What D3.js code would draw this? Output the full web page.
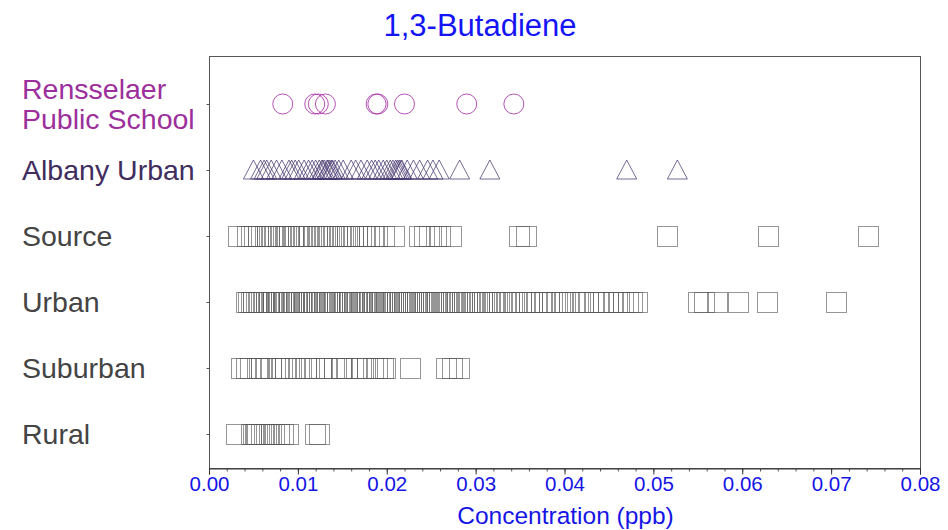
<!DOCTYPE html>
<html>
<head>
<meta charset="utf-8">
<script src="https://cdn.jsdelivr.net/npm/d3@7"></script>
<style>
  body { margin: 0; background: #fff; }
  svg { display: block; font-family: "Liberation Sans", Arial, sans-serif; }
</style>
</head>
<body>
<svg id="chart" width="948" height="530"></svg>
<script>
const width = 948;
const height = 530;
const svg = d3.select("#chart");

// row categories, top to bottom
const rows = ["Rensselaer Public School", "Albany Urban", "Source", "Urban", "Suburban", "Rural"];
const rowColors = ["#9c2f9c", "#3f2d5e", "#444", "#444", "#444", "#444"];

// concentrations (ppb)
const rensselaerValues = [0.0083, 0.0119, 0.0123, 0.0131, 0.0188, 0.0190, 0.0220, 0.0290, 0.0343];

const albanyValues = [0.0050, 0.0058, 0.0062, 0.0065, 0.0070, 0.0076, 0.0082, 0.0090, 0.0093, 0.0097,
  0.0101, 0.0107, 0.0112, 0.0116, 0.0120, 0.0124, 0.0127, 0.0128, 0.0130, 0.0133, 0.0134, 0.0136,
  0.0138, 0.0139, 0.0142, 0.0146, 0.0151, 0.0160, 0.0165, 0.0171, 0.0178, 0.0183, 0.0187, 0.0191,
  0.0196, 0.0200, 0.0204, 0.0207, 0.0210, 0.0212, 0.0214, 0.0216, 0.0217, 0.0223, 0.0230, 0.0237,
  0.0246, 0.0252, 0.0259, 0.0282, 0.0316, 0.0470, 0.0527];

const sourceValues = [0.0033, 0.0043, 0.0047, 0.0051, 0.0055, 0.0059, 0.0063, 0.0065, 0.0068, 0.0071,
  0.0074, 0.0078, 0.0080, 0.0083, 0.0087, 0.0090, 0.0094, 0.0096, 0.0100, 0.0104, 0.0107, 0.0111,
  0.0113, 0.0117, 0.0121, 0.0124, 0.0127, 0.0131, 0.0133, 0.0137, 0.0141, 0.0144, 0.0147, 0.0151,
  0.0155, 0.0158, 0.0162, 0.0167, 0.0171, 0.0176, 0.0180, 0.0185, 0.0189, 0.0197, 0.0208, 0.0236,
  0.0242, 0.0248, 0.0255, 0.0260, 0.0272, 0.0349, 0.0357, 0.0515, 0.0629, 0.0741];

const urbanValues = [0.0042, 0.0044, 0.0047, 0.0049, 0.0050, 0.0053, 0.0055, 0.0056, 0.0059, 0.0061,
  0.0062, 0.0064, 0.0067, 0.0068, 0.0071, 0.0072, 0.0075, 0.0077, 0.0078, 0.0081, 0.0083, 0.0084,
  0.0086, 0.0089, 0.0090, 0.0092, 0.0095, 0.0096, 0.0098, 0.0101, 0.0103, 0.0104, 0.0107, 0.0109,
  0.0110, 0.0112, 0.0115, 0.0117, 0.0118, 0.0121, 0.0122, 0.0124, 0.0127, 0.0129, 0.0130, 0.0133,
  0.0135, 0.0136, 0.0138, 0.0141, 0.0142, 0.0144, 0.0147, 0.0149, 0.0151, 0.0152, 0.0155, 0.0157,
  0.0158, 0.0161, 0.0163, 0.0165, 0.0166, 0.0169, 0.0171, 0.0172, 0.0175, 0.0177, 0.0178, 0.0181,
  0.0183, 0.0185, 0.0186, 0.0189, 0.0191, 0.0192, 0.0195, 0.0197, 0.0199, 0.0201, 0.0203, 0.0205,
  0.0207, 0.0209, 0.0211, 0.0212, 0.0215, 0.0217, 0.0219, 0.0221, 0.0223, 0.0225, 0.0227, 0.0229,
  0.0232, 0.0234, 0.0236, 0.0238, 0.0241, 0.0243, 0.0245, 0.0248, 0.0250, 0.0252, 0.0255, 0.0257,
  0.0259, 0.0262, 0.0264, 0.0267, 0.0269, 0.0272, 0.0274, 0.0277, 0.0279, 0.0282, 0.0285, 0.0287,
  0.0290, 0.0293, 0.0296, 0.0298, 0.0301, 0.0304, 0.0307, 0.0309, 0.0313, 0.0316, 0.0319, 0.0322,
  0.0326, 0.0330, 0.0334, 0.0338, 0.0343, 0.0346, 0.0351, 0.0355, 0.0360, 0.0363, 0.0368, 0.0373,
  0.0377, 0.0382, 0.0386, 0.0391, 0.0397, 0.0401, 0.0405, 0.0412, 0.0417, 0.0421, 0.0427, 0.0433,
  0.0438, 0.0443, 0.0449, 0.0455, 0.0461, 0.0466, 0.0471, 0.0476, 0.0482,
  0.0550, 0.0557, 0.0572, 0.0595, 0.0628, 0.0705];

const suburbanValues = [0.0036, 0.0042, 0.0046, 0.0054, 0.0056, 0.0059, 0.0063, 0.0070, 0.0078, 0.0082,
  0.0086, 0.0092, 0.0097, 0.0101, 0.0109, 0.0113, 0.0118, 0.0126, 0.0132, 0.0141, 0.0148, 0.0150,
  0.0155, 0.0165, 0.0171, 0.0178, 0.0185, 0.0189, 0.0196, 0.0198, 0.0226, 0.0267, 0.0273, 0.0281];

const ruralValues = [0.0030, 0.0047, 0.0050, 0.0052, 0.0054, 0.0059, 0.0062, 0.0064, 0.0068, 0.0070,
  0.0073, 0.0079, 0.0083, 0.0089, 0.0119, 0.0124];

const xTicks = [0, 0.01, 0.02, 0.03, 0.04, 0.05, 0.06, 0.07, 0.08];

const plot = { left: 209, right: 920, top: 56, bottom: 468 };

const x = d3.scaleLinear().domain([0, 0.08]).range([plot.left, plot.right]);
const y = d3.scalePoint().domain(rows).range([104, 434]);

// title
svg.append("text")
  .attr("x", 480).attr("y", 25).attr("dy", "0.35em")
  .attr("text-anchor", "middle")
  .style("font-size", "31px")
  .attr("fill", "#1414f5")
  .text("1,3-Butadiene");

// frame
svg.append("rect")
  .attr("x", plot.left + 0.5).attr("y", plot.top + 0.5)
  .attr("width", plot.right - plot.left).attr("height", plot.bottom - plot.top)
  .attr("fill", "none").attr("stroke", "#555").attr("stroke-width", 1);

// row labels
const labels = svg.append("g");
rows.forEach((r, i) => {
  const t = labels.append("text")
    .attr("x", 22)
    .style("font-size", "28.5px")
    .attr("fill", rowColors[i]);
  if (i === 0) {
    t.append("tspan").attr("x", 22).attr("y", y(r) - 15).attr("dy", "0.35em").text("Rensselaer");
    t.append("tspan").attr("x", 22).attr("y", y(r) + 15).attr("dy", "0.35em").text("Public School");
  } else {
    t.attr("y", y(r)).attr("dy", "0.35em").text(r);
  }
});

// small y ticks on the left edge
svg.append("g")
  .attr("transform", `translate(${plot.left + 0.5},0)`)
  .call(d3.axisLeft(y).tickSize(3).tickFormat(""))
  .call(g => g.select(".domain").remove())
  .selectAll("line").attr("stroke", "#555");

// x axis: minor ticks
svg.append("g")
  .attr("transform", `translate(0,${plot.bottom + 0.5})`)
  .call(d3.axisBottom(x).tickValues(d3.range(0, 0.0801, 0.002)).tickSize(3).tickFormat(""))
  .call(g => g.select(".domain").remove())
  .selectAll("line").attr("stroke", "#555");

// x axis: major ticks + labels
const xAxis = svg.append("g")
  .attr("transform", `translate(0,${plot.bottom + 0.5})`)
  .call(d3.axisBottom(x).tickValues(xTicks).tickSize(6).tickPadding(2).tickFormat(d3.format(".2f")));
xAxis.select(".domain").attr("stroke", "#333");
xAxis.selectAll("line").attr("stroke", "#333");
xAxis.selectAll("text")
  .style("font-size", "20.5px")
  .style("font-family", "'Liberation Sans', Arial, sans-serif")
  .attr("fill", "#1515e6");

svg.append("text")
  .attr("x", (plot.left + plot.right) / 2 + 1).attr("y", 515).attr("dy", "0.35em")
  .attr("text-anchor", "middle")
  .style("font-size", "24.5px")
  .attr("fill", "#1515e6")
  .text("Concentration (ppb)");

// markers
const marks = svg.append("g").attr("fill", "none");

// circles
const cy0 = y(rows[0]);
marks.append("g").selectAll("circle")
  .data(rensselaerValues).join("circle")
  .attr("cx", d => x(d)).attr("cy", cy0).attr("r", 10)
  .attr("stroke", "#a834a8").attr("stroke-opacity", 0.85).attr("stroke-width", 1);

// triangles
const cy1 = y(rows[1]);
marks.append("g").selectAll("path")
  .data(albanyValues).join("path")
  .attr("d", d => `M${x(d)},${cy1 - 10}L${x(d) + 10},${cy1 + 9}L${x(d) - 10},${cy1 + 9}Z`)
  .attr("stroke", "#4a3a70").attr("stroke-opacity", 0.75).attr("stroke-width", 1);

// squares
const squareRows = [[rows[2], sourceValues], [rows[3], urbanValues], [rows[4], suburbanValues], [rows[5], ruralValues]];
squareRows.forEach(([r, vals]) => {
  marks.append("g").selectAll("rect")
    .data(vals).join("rect")
    .attr("x", d => Math.round(x(d) - 10) + 0.5)
    .attr("y", Math.round(y(r) - 10) + 0.5)
    .attr("width", 20).attr("height", 20)
    .attr("stroke", "#555").attr("stroke-opacity", 0.62).attr("stroke-width", 1);
});
</script>
</body>
</html>
